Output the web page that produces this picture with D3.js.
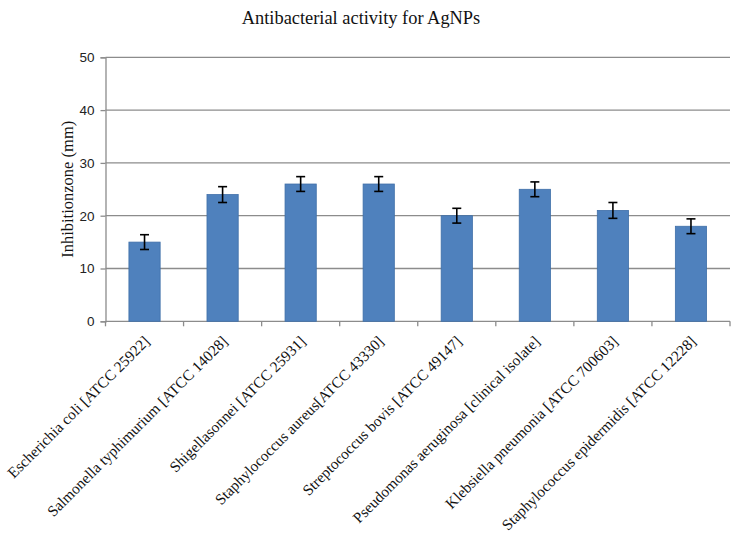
<!DOCTYPE html>
<html><head><meta charset="utf-8">
<script src="https://cdn.jsdelivr.net/npm/d3@7"></script>
<style>body{margin:0;background:#fff;} svg{display:block;}</style>
</head><body>
<svg id="chart" width="743" height="539"></svg>
<script>
const categories = [
  "Escherichia coli [ATCC 25922]",
  "Salmonella typhimurium [ATCC 14028]",
  "Shigellasonnei [ATCC 25931]",
  "Staphylococcus aureus[ATCC 43330]",
  "Streptococcus bovis [ATCC 49147]",
  "Pseudomonas aeruginosa [clinical isolate]",
  "Klebsiella pneumonia [ATCC 700603]",
  "Staphylococcus epidermidis [ATCC 12228]"
];
const values = [15, 24, 26, 26, 20, 25, 21, 18];
const errors = [1.4, 1.5, 1.4, 1.4, 1.4, 1.4, 1.5, 1.4];
const yTicks = [0, 10, 20, 30, 40, 50];
const title = "Antibacterial activity for AgNPs";
const yTitle = "Inhibitionzone (mm)";

const svg = d3.select("#chart");
const L = 105.5, R = 730, T = 57.3, B = 321.3;
const x = d3.scaleBand().domain(categories).range([L, R]).padding(0);
const y = d3.scaleLinear().domain([0, 50]).range([B, T]);
const grid = "#8c8c8c";

// gridlines
svg.append("g").selectAll("line").data(yTicks.filter(d => d > 0)).join("line")
  .attr("x1", L).attr("x2", R).attr("y1", d => y(d)).attr("y2", d => y(d))
  .attr("stroke", grid).attr("stroke-width", 1.3);

// y axis
const yAxis = d3.axisLeft(y).tickValues(yTicks).tickSize(5).tickPadding(6);
const gy = svg.append("g").attr("transform", `translate(${L},0)`).call(yAxis);
gy.select(".domain").attr("stroke", grid).attr("stroke-width", 1.3);
gy.selectAll(".tick line").attr("stroke", grid).attr("stroke-width", 1.3);
gy.selectAll(".tick text").attr("font-family", "Liberation Sans, Arial, sans-serif")
  .attr("font-size", 13.5).attr("fill", "#222");

// x axis
const gx = svg.append("g");
gx.append("line").attr("x1", L).attr("x2", R).attr("y1", B).attr("y2", B)
  .attr("stroke", grid).attr("stroke-width", 1.3);
const bounds = categories.map(c => x(c)).concat([x(categories[categories.length-1]) + x.bandwidth()]);
gx.selectAll("line.tk").data(bounds).join("line").attr("class", "tk")
  .attr("x1", d => d).attr("x2", d => d).attr("y1", B).attr("y2", B + 5)
  .attr("stroke", grid).attr("stroke-width", 1.3);
gx.selectAll("text").data(categories).join("text")
  .attr("transform", d => `translate(${x(d) + x.bandwidth()/2 + 6},${B + 21}) rotate(-45)`)
  .attr("text-anchor", "end")
  .attr("font-family", "Liberation Serif, Times New Roman, serif")
  .attr("font-size", 15.3).attr("fill", "#111")
  .text(d => d);

// bars
const bw = x.bandwidth() * 0.4;
svg.append("g").selectAll("rect").data(categories).join("rect")
  .attr("x", (d) => x(d) + (x.bandwidth() - bw)/2)
  .attr("y", (d, i) => y(values[i]))
  .attr("width", bw)
  .attr("height", (d, i) => B - y(values[i]))
  .attr("fill", "#4f81bd").attr("stroke", "#3f6fa8").attr("stroke-width", 0.8);

// error bars
const eg = svg.append("g").attr("stroke", "#000").attr("stroke-width", 1.6);
categories.forEach((c, i) => {
  const cx = x(c) + x.bandwidth()/2;
  const hi = y(values[i] + errors[i]), lo = y(values[i] - errors[i]);
  eg.append("line").attr("x1", cx).attr("x2", cx).attr("y1", hi).attr("y2", lo);
  eg.append("line").attr("x1", cx - 4.5).attr("x2", cx + 4.5).attr("y1", hi).attr("y2", hi);
  eg.append("line").attr("x1", cx - 4.5).attr("x2", cx + 4.5).attr("y1", lo).attr("y2", lo);
});

// title
svg.append("text").attr("x", 361).attr("y", 24).attr("text-anchor", "middle")
  .attr("font-family", "Liberation Serif, Times New Roman, serif")
  .attr("font-size", 18.4).attr("fill", "#111").text(title);

// y title
svg.append("text").attr("transform", `translate(73,${(T + B)/2}) rotate(-90)`)
  .attr("text-anchor", "middle")
  .attr("font-family", "Liberation Serif, Times New Roman, serif")
  .attr("font-size", 16.5).attr("fill", "#111").text(yTitle);
</script>
</body></html>
